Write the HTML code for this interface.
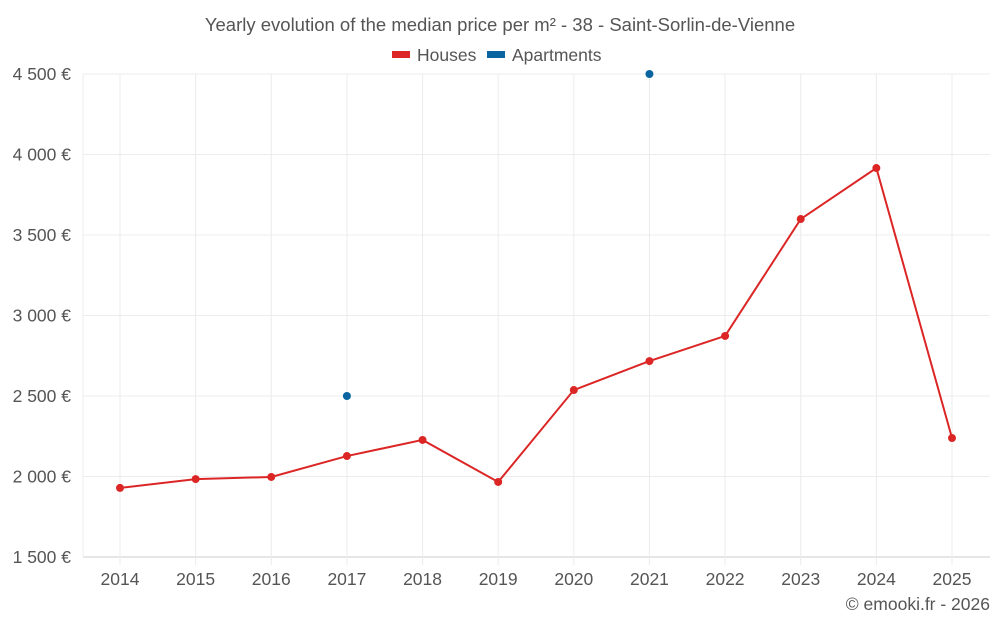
<!DOCTYPE html>
<html><head><meta charset="utf-8"><style>
body{margin:0;background:#fff;font-family:"Liberation Sans",sans-serif;}
svg text{font-family:"Liberation Sans",sans-serif;}
</style></head><body>
<svg id="chart" width="1000" height="625">
<text x="500" y="31" text-anchor="middle" font-size="18.5" fill="#555">Yearly evolution of the median price per m² - 38 - Saint-Sorlin-de-Vienne</text>
<g>
<g><rect x="392" y="51" width="18" height="7" fill="#dc2626"/><text x="417" y="61" font-size="17.5" fill="#555">Houses</text></g>
<g><rect x="487" y="51" width="18" height="7" fill="#0a64a0"/><text x="512" y="61" font-size="17.5" fill="#555">Apartments</text></g>
</g>
<g id="grid"></g><g id="axes"></g><g id="series"></g>
<text x="990" y="610" text-anchor="end" font-size="17.5" fill="#555">© emooki.fr - 2026</text>
</svg>
<script>
const years=[2014,2015,2016,2017,2018,2019,2020,2021,2022,2023,2024,2025];
const houses=[1929,1984,1997,2127,2227,1966,2537,2717,2873,3599,3916,2239];
const apartments=[null,null,null,2500,null,null,null,4500,null,null,null,null];
const yTicks=[1500,2000,2500,3000,3500,4000,4500];
const yLabels=["1 500 €","2 000 €","2 500 €","3 000 €","3 500 €","4 000 €","4 500 €"];
const NS="http://www.w3.org/2000/svg";
const L=83,R=990,T=74,B=557,yMin=1500,yMax=4500;
const x0=120,x1=952;
function xs(i){return x0+(x1-x0)*i/(years.length-1);}
function ys(v){return B-(v-yMin)/(yMax-yMin)*(B-T);}
function mk(tag,attrs,parent){const e=document.createElementNS(NS,tag);for(const k in attrs)e.setAttribute(k,attrs[k]);parent.appendChild(e);return e;}
const grid=document.getElementById('grid'),axes=document.getElementById('axes'),ser=document.getElementById('series');
yTicks.forEach((t,i)=>{
 const l=mk('line',{x1:L,x2:R,y1:ys(t),y2:ys(t),stroke:i==0?'#ccc':'#ececec'},grid);
 
 
 const tx=mk('text',{x:71,y:ys(t)+6,'text-anchor':'end','font-size':'17.5',fill:'#555'},axes);
 tx.textContent=yLabels[i];
 
 
});
const lv=mk('line',{x1:L,x2:L,y1:T,y2:B,stroke:'#ececec'},grid);


years.forEach((y,i)=>{
 const l=mk('line',{x1:xs(i),x2:xs(i),y1:T,y2:B+8,stroke:'#ececec'},grid);
 
 
 const tx=mk('text',{x:xs(i),y:585,'text-anchor':'middle','font-size':'17.5',fill:'#555'},axes);
 tx.textContent=y;
 
 
});
const pts=houses.map((v,i)=>v==null?null:xs(i)+','+ys(v)).filter(p=>p).join(' ');
const pl=mk('polyline',{points:pts,fill:'none',stroke:'#dc2626','stroke-width':'2'},ser);


houses.forEach((v,i)=>{if(v==null)return;
 const c=mk('circle',{cx:xs(i),cy:ys(v),r:4,fill:'#dc2626'},ser);
 
 
});
apartments.forEach((v,i)=>{if(v==null)return;
 const c=mk('circle',{cx:xs(i),cy:ys(v),r:4,fill:'#0a64a0'},ser);
 
 
});
</script>
</body></html>
